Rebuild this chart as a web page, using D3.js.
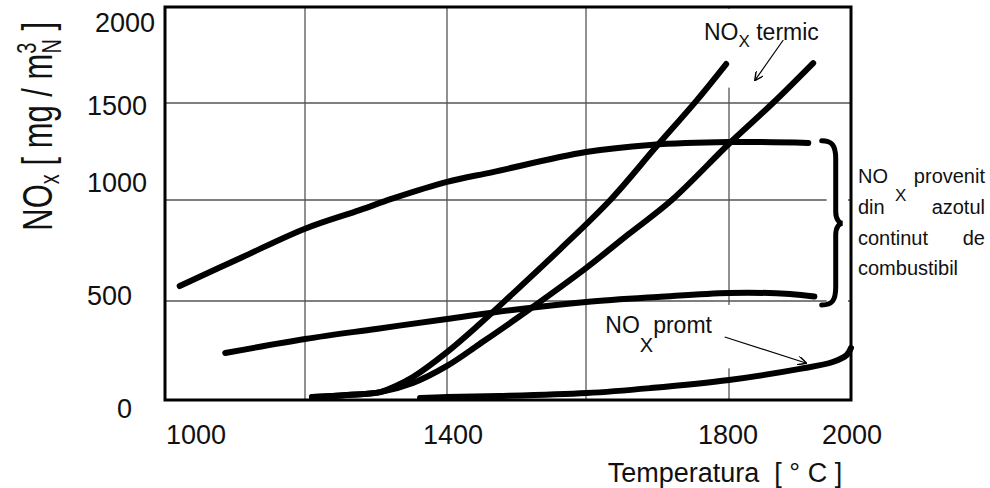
<!DOCTYPE html>
<html><head><meta charset="utf-8">
<script src="https://cdn.jsdelivr.net/npm/d3@7"></script>
<style>
body{margin:0;background:#fff}
svg{display:block}
text{font-family:"Liberation Sans",Arial,sans-serif;fill:#111;white-space:pre}
</style>
</head><body><svg id="c" width="990" height="488"></svg>
<script>
// ---- data ----
const xTicks = [1000, 1400, 1800, 2000];
const yTicks = [0, 500, 1000, 1500, 2000];
const xGrid = [1200, 1400, 1600, 1800];
const yGrid = [500, 1000, 1500];

const fuelHighT = [1021, 1111, 1200, 1277, 1324, 1400, 1466, 1600, 1690, 1800, 1930];
const fuelHighV = [574, 718, 858, 950, 1008, 1093, 1144, 1247, 1284, 1299, 1294];
const fuelLowT = [1086, 1200, 1300, 1400, 1500, 1600, 1700, 1800, 1900, 1940];
const fuelLowV = [237, 308, 359, 409, 457, 495, 520, 540, 535, 522];
const thermal1T = [1210, 1259, 1306, 1328, 1352, 1400, 1447, 1491, 1563, 1634, 1699, 1754, 1796];
const thermal1V = [15, 25, 40, 71, 116, 242, 384, 525, 757, 1000, 1278, 1510, 1703];
const thermal2T = [1210, 1259, 1306, 1352, 1400, 1447, 1501, 1600, 1660, 1720, 1800, 1872, 1938];
const thermal2V = [15, 25, 40, 86, 172, 283, 414, 663, 832, 1000, 1290, 1500, 1708];
const promptT = [1362, 1400, 1476, 1601, 1690, 1800, 1916, 1970, 1993, 2000];
const promptV = [10, 15, 20, 35, 60, 101, 157, 192, 227, 263];

// fuel-NOx bracket span (data units)
const braceT = 1952, braceTop = 1305, braceMid = 885, braceBottom = 480;

// ---- layout ----
const svg = d3.select("#c");
const x = d3.scaleLinear().domain([1000, 1200, 1400, 1600, 1800, 2000]).range([165, 305, 447, 586, 729, 851]);
const y = d3.scaleLinear().domain([0, 500, 1000, 1500, 2000]).range([400, 301, 200, 103, 7]);

const x0 = x(1000), x1 = x(2000), y0 = y(0), y1 = y(2000);

// grid
svg.append("g").selectAll("line").data(xGrid).join("line")
  .attr("x1", d => x(d)).attr("x2", d => x(d)).attr("y1", y1).attr("y2", y0)
  .attr("stroke", "#555").attr("stroke-width", 1.3);
svg.append("g").selectAll("line").data(yGrid).join("line")
  .attr("x1", x0).attr("x2", x1).attr("y1", d => y(d)).attr("y2", d => y(d))
  .attr("stroke", "#555").attr("stroke-width", 1.3);

// white label backgrounds (interrupt grid)
const bg = svg.append("g").attr("fill", "#fff");
bg.append("rect").attr("x", x(1780)).attr("y", y1 + 2).attr("width", x(1960) - x(1780)).attr("height", y(1580) - y1 - 2);
bg.append("rect").attr("x", x(1610)).attr("y", y(480)).attr("width", x(1815) - x(1610)).attr("height", y(160) - y(480));
bg.append("rect").attr("x", x(1960)).attr("y", y(1320)).attr("width", x(1995) - x(1960)).attr("height", y(460) - y(1320));

// frame
svg.append("rect").attr("x", x0).attr("y", y1).attr("width", x1 - x0).attr("height", y0 - y1)
  .attr("fill", "none").attr("stroke", "#000").attr("stroke-width", 3);

// curves
const line = d3.line().x(d => x(d[0])).y(d => y(d[1])).curve(d3.curveCatmullRom.alpha(0.5));
const series = [
  d3.zip(fuelHighT, fuelHighV),
  d3.zip(fuelLowT, fuelLowV),
  d3.zip(thermal1T, thermal1V),
  d3.zip(thermal2T, thermal2V),
  d3.zip(promptT, promptV)
];
svg.append("g").selectAll("path").data(series).join("path")
  .attr("d", line).attr("fill", "none").attr("stroke", "#000")
  .attr("stroke-width", 6).attr("stroke-linecap", "round").attr("stroke-linejoin", "round");

// brace
{
  const a = x(braceT), b = a + 14, tip = a + 21;
  const t = y(braceTop), m = y(braceMid), bo = y(braceBottom);
  const p = `M${a},${t} C${a + 10},${t} ${b},${t + 4} ${b},${t + 18} L${b},${m - 12} C${b},${m - 3} ${tip - 3},${m} ${tip},${m} C${tip - 3},${m} ${b},${m + 3} ${b},${m + 12} L${b},${bo - 18} C${b},${bo - 4} ${a + 10},${bo} ${a},${bo}`;
  svg.append("path").attr("d", p).attr("fill", "none").attr("stroke", "#000").attr("stroke-width", 5).attr("stroke-linecap", "round");
}

// arrows
svg.append("defs").append("marker").attr("id", "ah").attr("viewBox", "0 0 10 10").attr("refX", 9).attr("refY", 5)
  .attr("markerWidth", 9).attr("markerHeight", 9).attr("markerUnits", "userSpaceOnUse").attr("orient", "auto")
  .append("path").attr("d", "M0,0 L10,5 L0,10").attr("fill", "none").attr("stroke", "#000").attr("stroke-width", 1.6);
const arrows = [[[1889, 1828], [1843, 1620]], [[1794, 318], [1926, 187]]];
svg.append("g").selectAll("line").data(arrows).join("line")
  .attr("x1", d => x(d[0][0])).attr("y1", d => y(d[0][1])).attr("x2", d => x(d[1][0])).attr("y2", d => y(d[1][1]))
  .attr("stroke", "#000").attr("stroke-width", 1.2).attr("marker-end", "url(#ah)");

// tick labels
const yNudge = {0: [-33, 18], 500: [-33, 4], 1000: [-18, -8], 1500: [-18, 12], 2000: [-10, 25]};
svg.append("g").selectAll("text").data(yTicks).join("text")
  .attr("x", d => x0 + yNudge[d][0]).attr("y", d => y(d) + yNudge[d][1])
  .attr("text-anchor", "end").attr("font-size", 27).text(d => d);
const xNudge = {1000: 31, 1400: 6, 1800: -1, 2000: 1};
svg.append("g").selectAll("text").data(xTicks).join("text")
  .attr("x", d => x(d) + xNudge[d]).attr("y", y0 + 44)
  .attr("text-anchor", "middle").attr("font-size", 27).text(d => d);

// axis titles
svg.append("text").attr("x", x(1800) - 4).attr("y", y0 + 82).attr("text-anchor", "middle")
  .attr("font-size", 27).text("Temperatura  [ ° C ]");

const yt = svg.append("text").attr("transform", `translate(52,${y(1380)}) rotate(-90) scale(1,1.35)`)
  .attr("text-anchor", "middle").attr("font-size", 31);
yt.append("tspan").text("NO");
yt.append("tspan").attr("font-size", 20).attr("dy", 5).text("x");
yt.append("tspan").attr("dy", -5).text(" [ mg / m");
yt.append("tspan").attr("font-size", 20).attr("dy", -12).text("3");
yt.append("tspan").attr("font-size", 20).attr("dx", -11).attr("dy", 19).text("N");
yt.append("tspan").attr("dy", -7).text(" ]");

// annotations
const tm = svg.append("text").attr("x", x(1765)).attr("y", y(1830)).attr("font-size", 23);
tm.append("tspan").text("NO");
tm.append("tspan").attr("font-size", 17).attr("dy", 7).text("X");
tm.append("tspan").attr("dy", -7).text(" termic");

const pr = svg.append("text").attr("x", x(1627)).attr("y", y(338)).attr("font-size", 23);
pr.append("tspan").text("NO");
pr.append("tspan").attr("font-size", 20).attr("dy", 19).text("X");
pr.append("tspan").attr("dy", -19).text("promt");

// side note (justified lines)
const sx = x1 + 7, sr = 985;
const note = svg.append("g").attr("font-size", 20);
note.append("text").attr("x", sx).attr("y", 183).text("NO");
note.append("text").attr("x", sr).attr("y", 183).attr("text-anchor", "end").text("provenit");
note.append("text").attr("x", sx + 37).attr("y", 201).attr("font-size", 17).text("X");
note.append("text").attr("x", sx).attr("y", 214).text("din");
note.append("text").attr("x", sr).attr("y", 214).attr("text-anchor", "end").text("azotul");
note.append("text").attr("x", sx).attr("y", 245).text("continut");
note.append("text").attr("x", sr).attr("y", 245).attr("text-anchor", "end").text("de");
note.append("text").attr("x", sx).attr("y", 275).text("combustibil");
</script>
</body></html>
